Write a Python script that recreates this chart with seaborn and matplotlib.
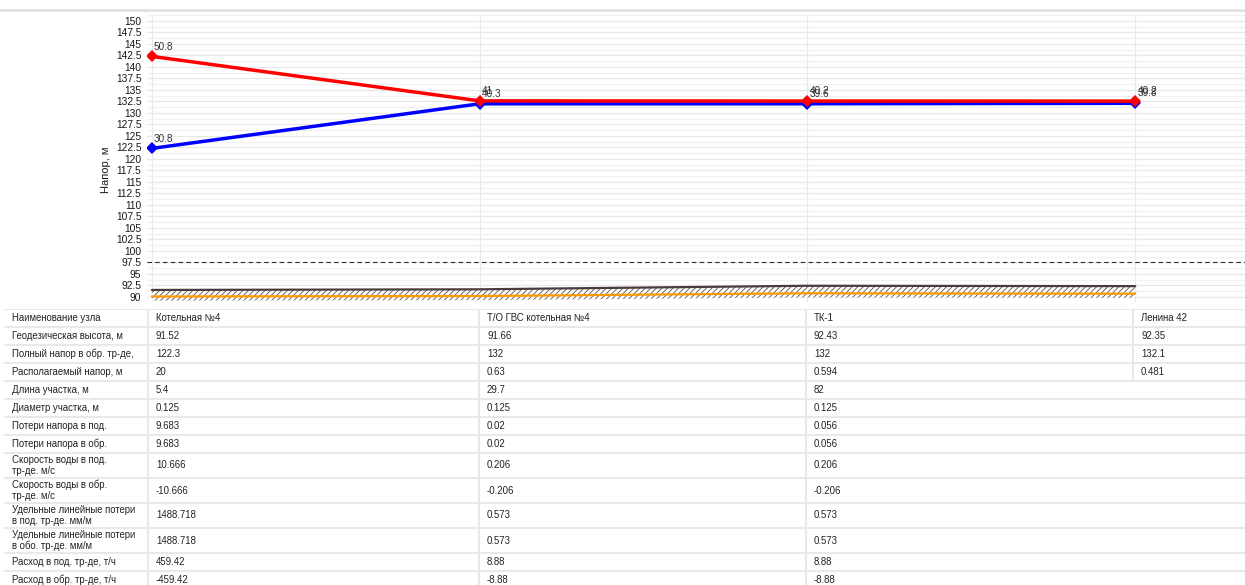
"""
Пьезометрический график: напоры в подающем и обратном трубопроводах + таблица узлов
"""
import matplotlib
matplotlib.use("Agg")
import matplotlib.pyplot as plt
from matplotlib.ticker import MultipleLocator
import seaborn as sns
import pandas as pd

# ---- данные ----
nodes = ["Котельная №4", "Т/О ГВС котельная №4", "ТК-1", "Ленина 42"]
supply_head = [142.3, 132.63, 132.594, 132.581]   # подающий, м
return_head = [122.3, 132, 132, 132.1]            # обратный, м
geo_height = [91.52, 91.66, 92.43, 92.35]         # отметка земли, м
pipe_level = [90.1, 90.2, 90.8, 90.7]             # ось трубопровода
trench_bottom = [89.2, 89.3, 89.9, 89.8]          # низ штриховки грунта
static_head = 97.5

row_names = [
    "Наименование узла",
    "Геодезическая высота, м",
    "Полный напор в обр. тр-де,",
    "Располагаемый напор, м",
    "Длина участка, м",
    "Диаметр участка, м",
    "Потери напора в под.",
    "Потери напора в обр.",
    "Скорость воды в под.\nтр-де. м/с",
    "Скорость воды в обр.\nтр-де. м/с",
    "Удельные линейные потери\nв под. тр-де. мм/м",
    "Удельные линейные потери\nв обо. тр-де. мм/м",
    "Расход в под. тр-де, т/ч",
    "Расход в обр. тр-де, т/ч",
]
available_head = ["20", "0.63", "0.594", "0.481"]
seg_length = ["5.4", "29.7", "82"]
seg_diam = ["0.125", "0.125", "0.125"]
loss_sup = ["9.683", "0.02", "0.056"]
loss_ret = ["9.683", "0.02", "0.056"]
vel_sup = ["10.666", "0.206", "0.206"]
vel_ret = ["-10.666", "-0.206", "-0.206"]
spec_sup = ["1488.718", "0.573", "0.573"]
spec_ret = ["1488.718", "0.573", "0.573"]
flow_sup = ["459.42", "8.88", "8.88"]
flow_ret = ["-459.42", "-8.88", "-8.88"]

table_values = [
    nodes,
    [f"{v:g}" for v in geo_height],
    [f"{v:g}" for v in return_head],
    available_head,
    seg_length, seg_diam, loss_sup, loss_ret,
    vel_sup, vel_ret, spec_sup, spec_ret, flow_sup, flow_ret,
]

# ---- оформление ----
sns.set_theme(style="white")
plt.rcParams['font.family'] = ['Liberation Sans', 'DejaVu Sans']
plt.rcParams['hatch.linewidth'] = 0.6

W, H = 1245, 585
fig = plt.figure(figsize=(W / 100, H / 100), dpi=100)

# верхняя серая полоса
fig.add_artist(plt.Line2D([0, 1], [1 - 10 / H, 1 - 10 / H], color="#e2e2e2", lw=2))

ax = fig.add_axes([147 / W, 1 - 302 / H, 1 - 147 / W, (302 - 15) / H])

x = list(range(len(nodes)))
df = pd.DataFrame({
    "x": x * 2,
    "head": return_head + supply_head,
    "series": ["обр"] * len(x) + ["под"] * len(x),
})

# грунт и трубопровод
ax.fill_between(x, trench_bottom, geo_height, facecolor="white",
                edgecolor="#5a5050", hatch="//////", lw=0, zorder=2)
ax.plot(x, geo_height, color="#4a3c3c", lw=1.6, zorder=3)
ax.plot(x, pipe_level, color="#ff9900", lw=1.6, zorder=3)
ax.axhline(static_head, color="#2a2a40", lw=0.8, ls=(0, (4, 3)), zorder=3)

sns.lineplot(data=df, x="x", y="head", hue="series",
             palette={"обр": "#0000ff", "под": "#ff0000"},
             marker="D", markersize=6, markeredgewidth=0,
             linewidth=2.5, legend=False, ax=ax, zorder=4)

# подписи располагаемых напоров над точками
for i in x:
    for head in (return_head, supply_head):
        val = round(head[i] - geo_height[i], 1)
        ax.annotate(f"{val:g}", (i, head[i]), xytext=(1.5, 3.5),
                    textcoords="offset points", fontsize=7.2,
                    color="#333333", ha="left", va="bottom", zorder=5)

ax.set_xlim(-0.015, 3.335)
ax.set_ylim(88.9, 151.3)
ax.yaxis.set_minor_locator(MultipleLocator(1.25))
ax.set_yticks([90 + 2.5 * k for k in range(25)])
ax.set_yticklabels([f"{90 + 2.5 * k:g}" for k in range(25)])
ax.set_xticks(x)
ax.set_xticklabels([])
ax.tick_params(axis="both", length=0, pad=4, labelsize=7.4, colors="#1a1a1a")
ax.grid(True, which="major", axis="both", color="#e8e8e8", lw=0.9)
ax.grid(True, which="minor", axis="y", color="#f1f1f1", lw=0.9)
for s in ax.spines.values():
    s.set_visible(False)
ax.set_xlabel("")
ax.set_ylabel("Напор, м", fontsize=8, color="#1a1a1a")
ax.yaxis.set_label_coords(-0.033, 0.46)

# ---- таблица ----
tab = fig.add_axes([0, 0, 1, (H - 309) / H])
tab.set_xlim(0, W)
tab.set_ylim(H, 309)
tab.axis("off")

row_h = [18] * 8 + [25] * 4 + [18] * 2
col_x = [5, 148, 479, 806, 1133]
line_c = "#e9e9e9"

y0 = 309
for r, h in enumerate(row_h):
    yc = y0 + h / 2
    tab.plot([5, W], [y0, y0], color=line_c, lw=1.5, clip_on=True)
    tab.text(12, yc, row_names[r], fontsize=6.9, va="center", ha="left",
             color="#222222", linespacing=1.1, clip_on=True)
    for c, val in enumerate(table_values[r]):
        tab.text(col_x[c + 1] + 8, yc, val, fontsize=6.9, va="center",
                 ha="left", color="#222222", clip_on=True)
    y0 += h

# вертикальные разделители
tab.plot([col_x[1], col_x[1]], [309, H], color=line_c, lw=1.5)
tab.plot([col_x[2], col_x[2]], [309, H], color=line_c, lw=1.5)
tab.plot([col_x[3], col_x[3]], [309, H], color=line_c, lw=1.5)
tab.plot([col_x[4], col_x[4]], [309, 309 + 4 * 18], color=line_c, lw=1.5)

fig.savefig("out.png", dpi=100)
